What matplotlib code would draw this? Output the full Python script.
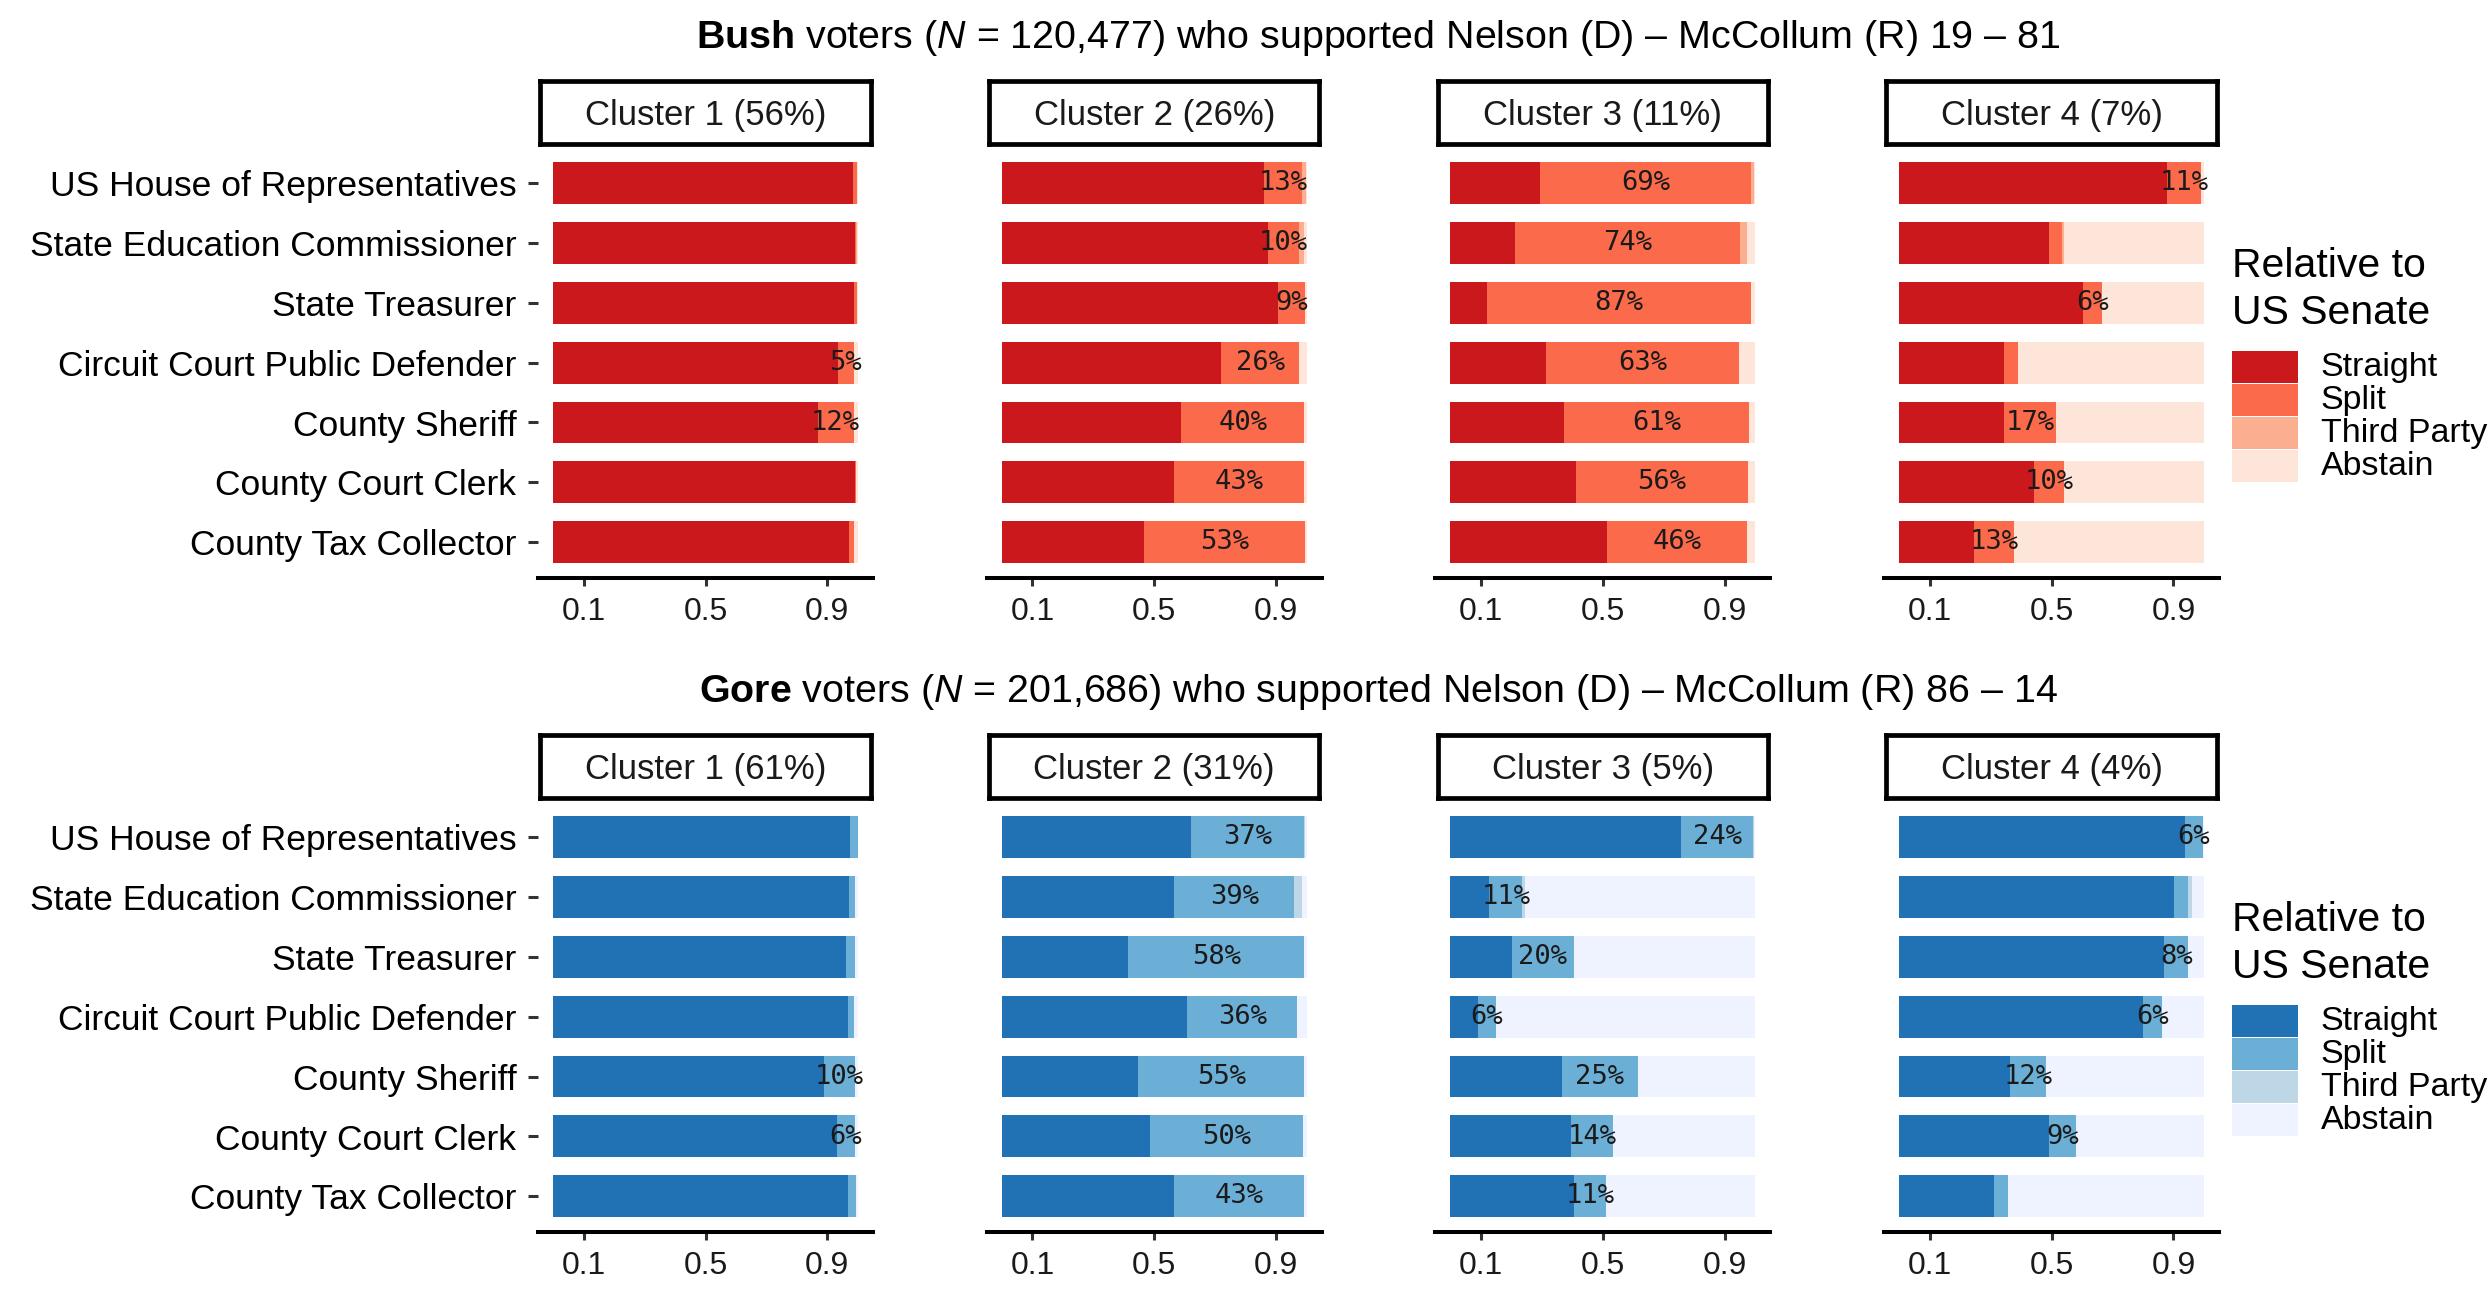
import matplotlib
matplotlib.use("Agg")
import matplotlib.pyplot as plt
from matplotlib.patches import Rectangle

# ---------------- data ----------------
offices = ["US House of Representatives", "State Education Commissioner", "State Treasurer",
           "Circuit Court Public Defender", "County Sheriff", "County Court Clerk",
           "County Tax Collector"]
categories = ["Straight", "Split", "Third Party", "Abstain"]

bush_clusters = ["Cluster 1 (56%)", "Cluster 2 (26%)", "Cluster 3 (11%)", "Cluster 4 (7%)"]
gore_clusters = ["Cluster 1 (61%)", "Cluster 2 (31%)", "Cluster 3 (5%)", "Cluster 4 (4%)"]

# each list: one row per cluster, 7 offices in order
bush_straight = [
    [0.985, 0.991, 0.988, 0.934, 0.868, 0.990, 0.971],
    [0.859, 0.875, 0.907, 0.720, 0.589, 0.566, 0.467],
    [0.295, 0.213, 0.121, 0.314, 0.373, 0.413, 0.514],
    [0.880, 0.492, 0.604, 0.344, 0.344, 0.443, 0.245],
]
bush_split = [
    [0.013, 0.004, 0.009, 0.053, 0.119, 0.004, 0.016],
    [0.126, 0.099, 0.088, 0.256, 0.404, 0.427, 0.527],
    [0.691, 0.737, 0.866, 0.633, 0.608, 0.563, 0.459],
    [0.112, 0.043, 0.063, 0.047, 0.170, 0.097, 0.131],
]
bush_third = [
    [0.000, 0.001, 0.000, 0.000, 0.000, 0.000, 0.000],
    [0.012, 0.019, 0.000, 0.000, 0.000, 0.000, 0.000],
    [0.012, 0.023, 0.000, 0.000, 0.000, 0.000, 0.000],
    [0.000, 0.005, 0.000, 0.000, 0.000, 0.000, 0.000],
]
bush_abstain = [
    [0.002, 0.004, 0.003, 0.013, 0.013, 0.006, 0.013],
    [0.003, 0.007, 0.005, 0.024, 0.007, 0.007, 0.006],
    [0.002, 0.027, 0.013, 0.053, 0.019, 0.024, 0.027],
    [0.008, 0.460, 0.333, 0.609, 0.486, 0.460, 0.624],
]

gore_straight = [
    [0.975, 0.971, 0.962, 0.968, 0.889, 0.932, 0.968],
    [0.622, 0.566, 0.414, 0.608, 0.447, 0.487, 0.566],
    [0.757, 0.127, 0.203, 0.091, 0.367, 0.396, 0.406],
    [0.938, 0.903, 0.869, 0.801, 0.364, 0.492, 0.312],
]
gore_split = [
    [0.024, 0.021, 0.030, 0.020, 0.102, 0.059, 0.026],
    [0.371, 0.394, 0.579, 0.362, 0.546, 0.500, 0.426],
    [0.237, 0.109, 0.201, 0.057, 0.248, 0.138, 0.106],
    [0.058, 0.046, 0.080, 0.060, 0.118, 0.089, 0.046],
]
gore_third = [
    [0.000, 0.000, 0.000, 0.000, 0.000, 0.000, 0.000],
    [0.003, 0.026, 0.000, 0.000, 0.000, 0.000, 0.000],
    [0.004, 0.009, 0.000, 0.000, 0.000, 0.000, 0.000],
    [0.000, 0.011, 0.000, 0.000, 0.000, 0.000, 0.000],
]
gore_abstain = [
    [0.001, 0.008, 0.008, 0.012, 0.009, 0.009, 0.006],
    [0.004, 0.014, 0.007, 0.030, 0.007, 0.013, 0.008],
    [0.002, 0.755, 0.596, 0.852, 0.385, 0.466, 0.488],
    [0.004, 0.040, 0.051, 0.139, 0.518, 0.419, 0.642],
]

bush_title = r"$\mathbf{Bush}$ voters ($\mathit{N}$ = 120,477) who supported Nelson (D) – McCollum (R) 19 – 81"
gore_title = r"$\mathbf{Gore}$ voters ($\mathit{N}$ = 201,686) who supported Nelson (D) – McCollum (R) 86 – 14"

reds = ["#CB181D", "#FB6A4A", "#FCAE91", "#FEE5D9"]
blues = ["#2171B5", "#6BAED6", "#BDD7E7", "#EFF3FF"]

xticks = [0.1, 0.5, 0.9]
xticklabels = ["0.1", "0.5", "0.9"]

# ---------------- style ----------------
plt.rcParams["font.family"] = ["Liberation Sans", "DejaVu Sans"]
plt.rcParams["mathtext.fontset"] = "custom"
plt.rcParams["mathtext.rm"] = "Liberation Sans"
plt.rcParams["mathtext.it"] = "Liberation Sans:italic"
plt.rcParams["mathtext.bf"] = "Liberation Sans:bold"

W, H = 2489, 1295
fig = plt.figure(figsize=(W / 100 + 0.001, H / 100 + 0.001), dpi=100)


def fx(px):
    return px / W


def fy(py):
    return 1 - py / H


panel_left = [538, 986.7, 1435.2, 1884]
panel_w = 335
panel_top = 147.2
panel_h = 431
row_offset = 654

groups = [
    (bush_title, bush_clusters, bush_straight, bush_split, bush_third, bush_abstain, reds),
    (gore_title, gore_clusters, gore_straight, gore_split, gore_third, gore_abstain, blues),
]

ypos = list(range(1, len(offices) + 1))

for g, (title, clusters, s_st, s_sp, s_th, s_ab, cols) in enumerate(groups):
    off = g * row_offset
    # group title
    fig.text(fx(1378), fy(48 + off), title, ha="center", va="baseline",
             fontsize=28.4, color="black")
    for c in range(4):
        left = panel_left[c]
        ax = fig.add_axes([fx(left), fy(panel_top + panel_h + off), fx(panel_w), panel_h / H])
        st, sp, th, ab = s_st[c], s_sp[c], s_th[c], s_ab[c]
        left1 = st
        left2 = [a + b for a, b in zip(st, sp)]
        left3 = [a + b for a, b in zip(left2, th)]
        ax.barh(ypos, st, height=0.7, color=cols[0], linewidth=0)
        ax.barh(ypos, sp, left=left1, height=0.7, color=cols[1], linewidth=0)
        ax.barh(ypos, th, left=left2, height=0.7, color=cols[2], linewidth=0)
        ax.barh(ypos, ab, left=left3, height=0.7, color=cols[3], linewidth=0)
        for i in range(len(offices)):
            if sp[i] >= 0.05:
                ax.text(st[i] + sp[i] / 2, ypos[i], f"{round(sp[i] * 100)}%",
                        ha="center", va="center", fontsize=19.5,
                        family="DejaVu Sans Mono", color="#1a1a1a")
        ax.set_xlim(-0.05, 1.05)
        ax.set_ylim(len(offices) + 0.6, 0.4)
        for side in ["top", "right", "left"]:
            ax.spines[side].set_visible(False)
        ax.spines["bottom"].set_linewidth(2.9)
        ax.spines["bottom"].set_color("black")
        ax.set_xticks(xticks)
        ax.set_xticklabels(xticklabels)
        ax.tick_params(axis="x", direction="out", length=6, width=2.2,
                       color="#333333", labelsize=23, labelcolor="#1a1a1a", pad=7.5)
        if c == 0:
            ax.set_yticks(ypos)
            ax.set_yticklabels(offices)
            ax.tick_params(axis="y", direction="out", length=7.5, width=2.2,
                           color="#333333", labelsize=25.5, labelcolor="black", pad=8)
        else:
            ax.set_yticks([])
        ax.set_facecolor("white")

        # strip
        sax = fig.add_axes([fx(left + 2.4), fy(143.8 + off), fx(panel_w - 4.8), 63 / H])
        sax.set_xticks([])
        sax.set_yticks([])
        for sp_ in sax.spines.values():
            sp_.set_linewidth(3.4)
            sp_.set_color("black")
        sax.text(0.5, 0.45, clusters[c], ha="center", va="center",
                 transform=sax.transAxes, fontsize=25, color="#1a1a1a")

    # legend
    fig.text(fx(2231.5), fy(276.7 + off), "Relative to", ha="left", va="baseline",
             fontsize=29.5, color="black")
    fig.text(fx(2231.5), fy(324.3 + off), "US Senate", ha="left", va="baseline",
             fontsize=29.5, color="black")
    for k, lab in enumerate(categories):
        top = 351.5 + k * 33.0 + off
        fig.patches.append(Rectangle((fx(2231.5), fy(top + 31.5)), fx(66), 31.5 / H,
                                     transform=fig.transFigure, facecolor=cols[k],
                                     edgecolor="none"))
        fig.text(fx(2320.8), fy(top + 15.75), lab, ha="left", va="center",
                 fontsize=24.5, color="black")

fig.savefig("out.png", dpi=100, facecolor="white")
